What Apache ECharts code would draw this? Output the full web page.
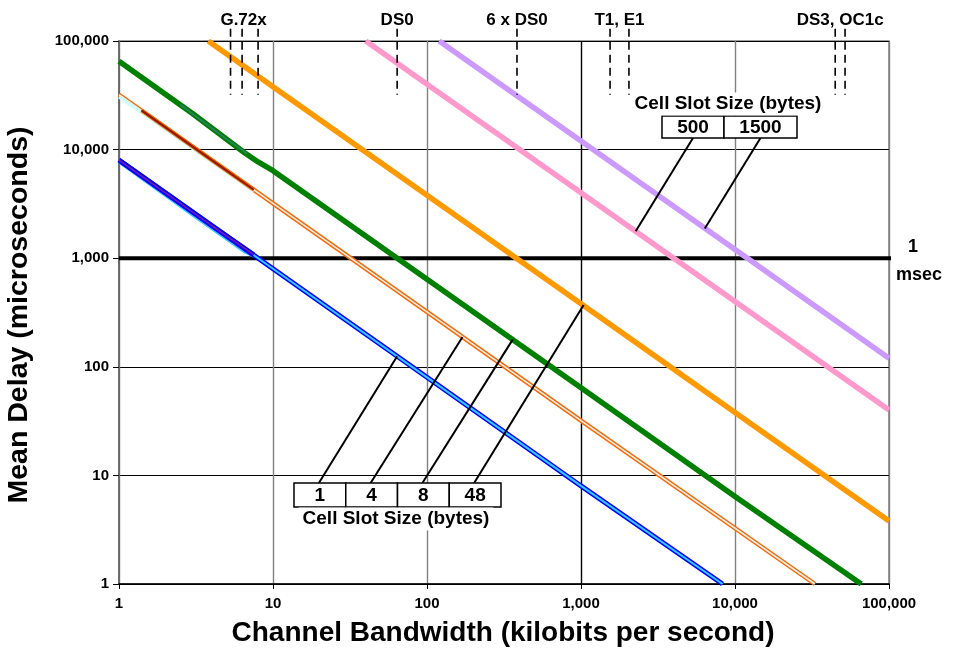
<!DOCTYPE html>
<html><head><meta charset="utf-8">
<script src="https://cdn.jsdelivr.net/npm/echarts@6/dist/echarts.min.js"></script>
<style>html,body{margin:0;padding:0;background:#fff}#c{width:953px;height:648px}</style>
</head><body><div id="c"></div>
<script>
// ---- data ----
const xTicks = [1, 10, 100, 1000, 10000, 100000];   // kbps
const yTicks = [1, 10, 100, 1000, 10000, 100000];   // microseconds
// mean delay vs bandwidth, per cell slot size
const slot1    = [[1, 8000], [10, 800], [100, 80], [1000, 8], [8300, 1]];
const slot1Low = [[1, 7700], [3, 2500], [6.5, 1150], [8, 1000]];
const slot1Mid = [[1, 8000], [4, 2000], [7.5, 1080]];
const slot4    = [[1, 32000], [10, 3200], [100, 320], [1000, 32], [33000, 1]];
const slot4Low = [[1, 30500], [4, 7700], [7.5, 4150]];
const slot4Mid = [[1.4, 23000], [4, 8000], [7.5, 4270]];
const slot8    = [[1, 65000], [3, 21500], [6.5, 9400], [8, 7700], [10, 6400], [100, 640], [1000, 64], [10000, 6.4], [66000, 1]];
const slot8Mid = [[2.5, 26000], [5, 12500], [6.8, 9200]];
const slot48   = [[3.8, 100000], [10, 38000], [100, 3800], [1000, 380], [10000, 38], [100000, 3.8]];
const slot500  = [[40, 100000], [100, 40000], [1000, 4000], [10000, 400], [100000, 40]];
const slot1500 = [[120, 100000], [1000, 12000], [10000, 1200], [100000, 120]];
const msecLine = [[1, 1000], [125000, 1000]];
// reference channel rates (kbps)
const refGroups = [
  { label: 'G.72x', rates: [5.3, 6.3, 8] },
  { label: 'DS0', rates: [64] },
  { label: '6 x DS0', rates: [384] },
  { label: 'T1, E1', rates: [1544, 2048] },
  { label: 'DS3, OC1c', rates: [44736, 51840] }
];
const refSpan = [130000, 32000];  // delay extent of the dashed markers
// leader anchors on curves
const lowerLabels = ['1', '4', '8', '48'];
const lowerAnchors = [[64, 125], [170, 188], [360, 178], [1040, 370]];
const upperLabels = ['500', '1500'];
const upperAnchors = [[2265, 1770], [6370, 1880]];
const slotTitle = 'Cell Slot Size (bytes)';

const FONT = '"Liberation Sans", Arial, sans-serif';
const chart = echarts.init(document.getElementById('c'), null, { renderer: 'canvas' });

function line(data, color, width, z, extra) {
  return Object.assign({
    type: 'line', data: data, symbol: 'none', silent: true, animation: false,
    lineStyle: { color: color, width: width }, z: z
  }, extra || {});
}

const series = [
  line(msecLine, '#000', 4, 2, { clip: false }),
  line(slot1500, '#CC99FF', 5.5, 3),
  line(slot500, '#FF99CC', 5.5, 3),
  line(slot48, '#FF9900', 5.5, 3),
  line(slot8, '#008000', 5.5, 3),
  line(slot8Mid, '#2E7F6F', 1.5, 4),
  line(slot4, '#FF6600', 4.5, 3),
  line(slot4, '#D8F4F4', 1.6, 4),
  line(slot4Low, '#CCFFFF', 3, 3),
  line(slot4Mid, '#FF6600', 4, 4),
  line(slot4Mid, '#8B1A00', 2, 5),
  line(slot1Low, '#33CCFF', 3, 3),
  line(slot1, '#0000FF', 5, 4),
  line(slot1, '#33CCFF', 2, 5),
  line(slot1Mid, '#0000FF', 4.5, 5),
  line(slot1Mid, '#7A1FA0', 1.5, 6)
];
refGroups.forEach(g => g.rates.forEach(r => {
  series.push(line([[r, refSpan[0]], [r, refSpan[1]]], '#000', 1.5, 7,
    { clip: false, lineStyle: { color: '#000', width: 1.6, type: [8, 5] } }));
}));

chart.setOption({
  animation: false,
  grid: { left: 119, right: 64, top: 41, bottom: 64, show: true, borderColor: '#808080', borderWidth: 1.5 },
  xAxis: {
    type: 'log', logBase: 10, min: 1, max: 100000,
    axisLine: { lineStyle: { color: '#000', width: 1.5 } },
    axisTick: { show: true, length: 5, lineStyle: { color: '#000' } },
    minorTick: { show: false },
    splitLine: { show: true, lineStyle: { color: ['#808080', '#808080', '#808080', '#000000', '#808080', '#808080'], width: 1.4 } },
    axisLabel: { margin: 12, color: '#000', fontWeight: 'bold', fontSize: 15, fontFamily: FONT,
      formatter: v => Math.round(v).toLocaleString('en-US') }
  },
  yAxis: {
    type: 'log', logBase: 10, min: 1, max: 100000,
    axisLine: { show: true, lineStyle: { color: '#606060', width: 1.5 } },
    axisTick: { show: true, length: 6, inside: false, lineStyle: { color: '#000' } },
    minorTick: { show: false },
    splitLine: { show: true, lineStyle: { color: '#000', width: 1 } },
    axisLabel: { margin: 10, color: '#000', fontWeight: 'bold', fontSize: 15, fontFamily: FONT,
      formatter: v => Math.round(v).toLocaleString('en-US') }
  },
  series: series
});

const px = p => chart.convertToPixel({ gridIndex: 0 }, p);
const txt = (x, y, s, size, extra) => Object.assign({
  type: 'text', x: x, y: y, z: 100,
  style: Object.assign({ text: s, fill: '#000', font: 'bold ' + size + 'px ' + FONT, align: 'center', verticalAlign: 'middle' }, extra || {})
});
const seg = (a, b) => ({ type: 'line', z: 90, shape: { x1: a[0], y1: a[1], x2: b[0], y2: b[1] }, style: { stroke: '#000', lineWidth: 2 } });
const rect = (x, y, w, h) => ({ type: 'rect', z: 95, shape: { x: x, y: y, width: w, height: h }, style: { fill: '#fff', stroke: '#000', lineWidth: 1.5 } });

const g = [];
// axis titles
g.push(txt(503, 633, 'Channel Bandwidth (kilobits per second)', 28));
g.push(Object.assign(txt(0, 0, 'Mean Delay (microseconds)', 28.5), { x: 19, y: 315, rotation: Math.PI / 2 }));
// reference labels
refGroups.forEach(gr => {
  const xs = gr.rates.map(r => px([r, 1000])[0]);
  const cx = xs.reduce((a, b) => a + b, 0) / xs.length;
  g.push(txt(cx, 20, gr.label, 17));
});
// 1 msec label
const m = px([100000, 1000]);
g.push(txt(m[0] + 24, m[1] - 11, '1', 18));
g.push(txt(m[0] + 30, m[1] + 17, 'msec', 18));

// lower slot-size box
const lbx = 294, lby = 483, lbw = 51.75, lbh = 24;
g.push(txt(396, 519, slotTitle, 19, { backgroundColor: '#fff', padding: [2, 4] }));
lowerLabels.forEach((s, i) => {
  const x0 = lbx + i * lbw;
  g.push(rect(x0, lby, lbw, lbh));
  g.push(txt(x0 + lbw / 2, lby + lbh / 2 + 1, s, 19));
  g.push(seg([x0 + lbw / 2 - 1, lby], px(lowerAnchors[i])));
});
// upper slot-size box
const ubx = [662, 724], ubw = [62, 73], uby = 116, ubh = 22;
g.push(txt(728, 104, slotTitle, 19, { backgroundColor: '#fff', padding: [2, 4] }));
upperLabels.forEach((s, i) => {
  g.push(rect(ubx[i], uby, ubw[i], ubh));
  g.push(txt(ubx[i] + ubw[i] / 2, uby + ubh / 2 + 1, s, 19));
  g.push(seg([ubx[i] + ubw[i] / 2, uby + ubh], px(upperAnchors[i])));
});
chart.setOption({ graphic: g });
</script>
</body></html>
